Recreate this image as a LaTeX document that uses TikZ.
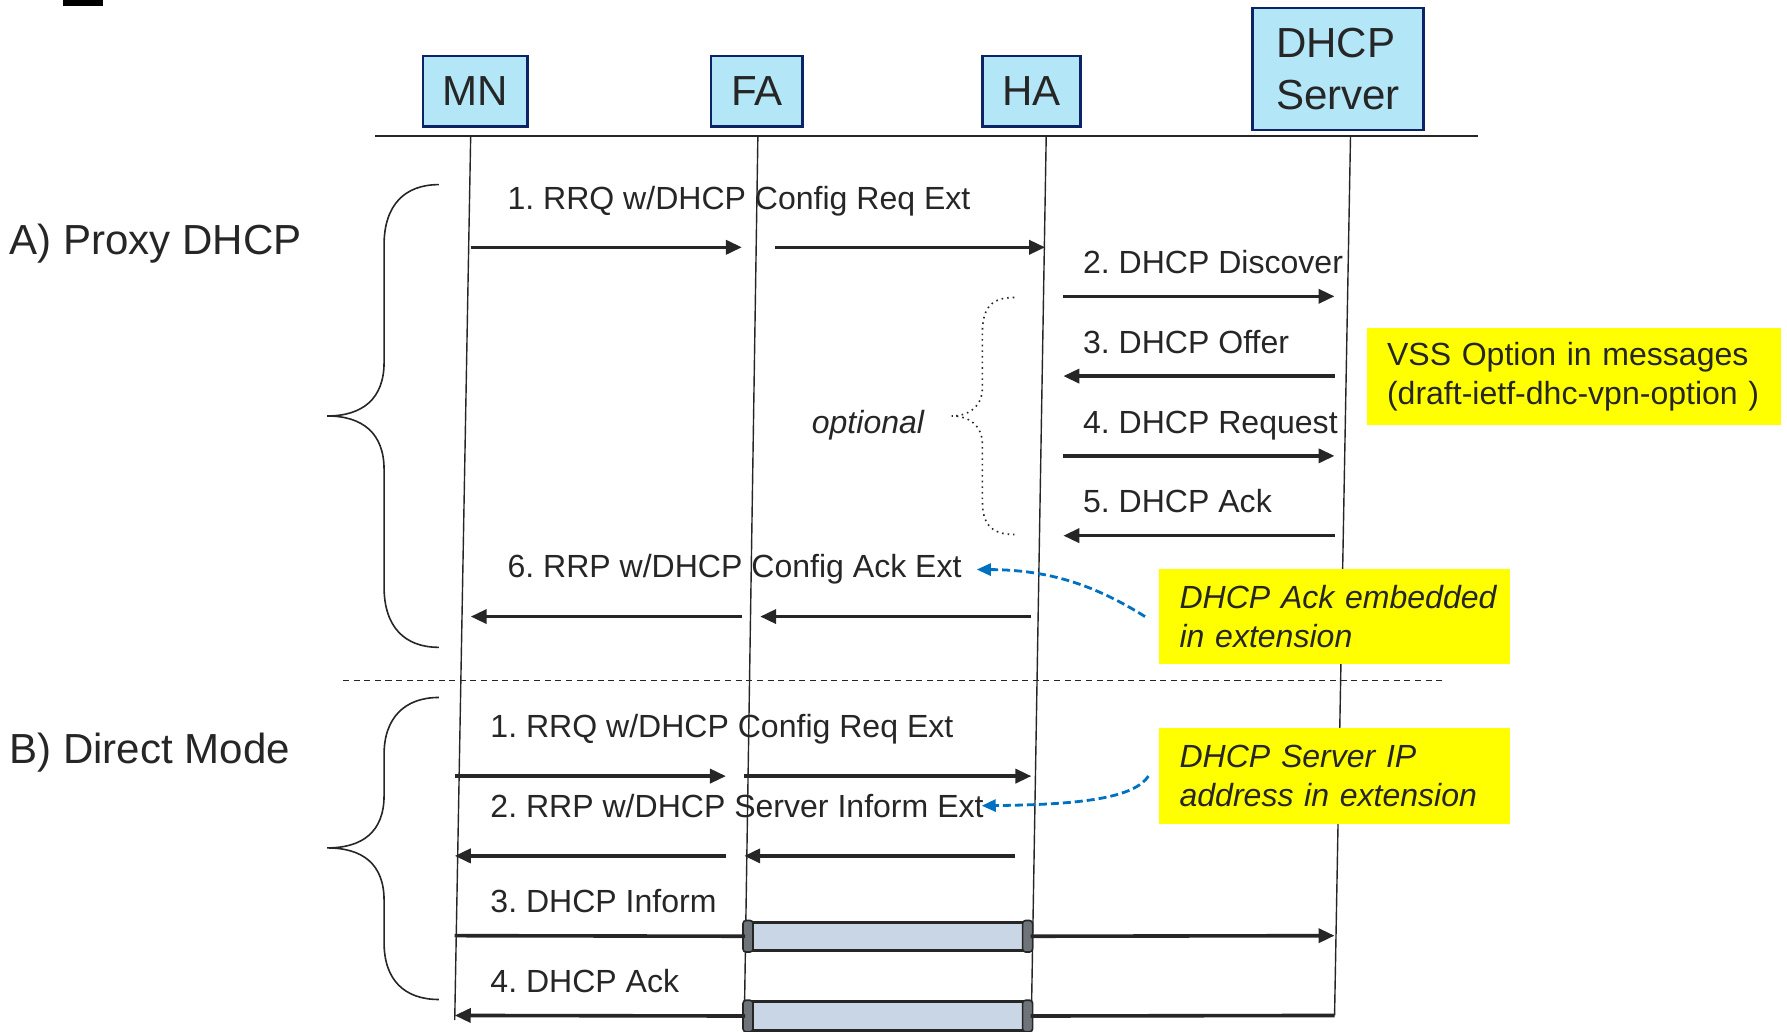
\documentclass[tikz,border=0pt]{standalone}
\usepackage{fontspec}
\setmainfont{Liberation Sans}
\usetikzlibrary{arrows.meta}
\definecolor{boxblue}{HTML}{B3E7F8}
\definecolor{boxline}{HTML}{0C2366}
\definecolor{ink}{HTML}{262626}
\definecolor{notey}{HTML}{FFFF00}
\definecolor{tunnelfill}{HTML}{C8D6E6}
\definecolor{capgray}{HTML}{6E747A}
\definecolor{callout}{HTML}{0070C0}
\frenchspacing

\tikzset{
  entity/.style={draw=boxline, fill=boxblue, line width=1.2pt, text=ink,
    font=\fontsize{21}{26}\selectfont, inner sep=0pt, minimum height=1.24cm},
  life/.style={draw=ink, line width=0.7pt},
  msg/.style={draw=ink, line width=1.8pt, -{Triangle[length=8pt,width=7pt]}},
  plain/.style={draw=ink, line width=1.8pt},
  msgtext/.style={anchor=base west, inner sep=0pt, text=ink, font=\fontsize{16}{19}\selectfont},
  group/.style={anchor=base west, inner sep=0pt, text=ink, font=\fontsize{21}{25}\selectfont},
  note/.style={fill=notey, text=ink, align=left, inner ysep=0pt, inner xsep=0.36cm,
    font=\fontsize{16}{19.5}\selectfont},
  tunnel/.style={draw=ink, fill=tunnelfill, line width=1.5pt, inner sep=0pt,
    minimum width=4.96cm, minimum height=0.5cm},
  tcap/.style={draw=ink, fill=capgray, line width=0.8pt, rounded corners=1.5pt},
  brace/.style={draw=ink, line width=0.8pt},
  callarrow/.style={draw=callout, line width=1.4pt, dash pattern=on 4pt off 2pt,
    -{Triangle[length=7pt,width=6pt]}}
}

\begin{document}
\begin{tikzpicture}[x=0.02cm,y=-0.02cm]
    \useasboundingbox (0,0) rectangle (1568,905);

    \fill[black] (55,0) rectangle (90,5);

    % entities
    \node[entity, minimum width=1.84cm] (mn) at (417,80) {MN};
    \node[entity, minimum width=1.6cm] (fa) at (664,80) {FA};
    \node[entity, minimum width=1.72cm] (ha) at (905,80) {HA};
    \node[entity, minimum width=3cm, minimum height=2.14cm, align=left] (srv) at (1174,60.5) {DHCP\\Server};

    \coordinate (hl) at (329,119);
    \coordinate (hr) at (1297,119);
    \draw[draw=ink, line width=1.1pt] (hl) -- (hr);

    % lifelines
    \coordinate (mn top) at (413,119);  \coordinate (mn bot) at (399,895);
    \coordinate (fa top) at (665,119);  \coordinate (fa bot) at (653,902);
    \coordinate (ha top) at (918,119);  \coordinate (ha bot) at (905,891);
    \coordinate (srv top) at (1185,119); \coordinate (srv bot) at (1171,891);
    \foreach \l in {mn,fa,ha,srv}
    \draw[life] (\l\space top) -- (\l\space bot);

    % A) proxy DHCP
    \node[group] (grpA) at (8,223) {A) Proxy DHCP};
    \draw[brace] (385,162) .. controls (355,162) and (337,180) .. (337,215) -- (337,318)
        .. controls (337,350) and (318,365) .. (287,365)
        .. controls (318,365) and (337,380) .. (337,412) -- (337,515)
        .. controls (337,550) and (355,568) .. (385,568);

    \node[msgtext] (a1) at (445,184) {1. RRQ w/DHCP Config Req Ext};
    \coordinate (a1mn) at (413,217); \coordinate (a1fa) at (651,217);
    \coordinate (a1fb) at (680,217); \coordinate (a1ha) at (917,217);
    \draw[msg] (a1mn) -- (a1fa);
    \draw[msg] (a1fb) -- (a1ha);

    \node[msgtext] (a2) at (950,240) {2. DHCP Discover};
    \coordinate (a2ha) at (933,260); \coordinate (a2srv) at (1171,260);
    \draw[msg] (a2ha) -- (a2srv);

    \node[msgtext] (a3) at (950,310) {3. DHCP Offer};
    \coordinate (a3ha) at (933,330); \coordinate (a3srv) at (1171,330);
    \draw[msg] (a3srv) -- (a3ha);

    \node[msgtext] (a4) at (950,380) {4. DHCP Request};
    \coordinate (a4ha) at (933,400); \coordinate (a4srv) at (1171,400);
    \draw[msg] (a4ha) -- (a4srv);

    \node[msgtext] (a5) at (950,450) {5. DHCP Ack};
    \coordinate (a5ha) at (933,470); \coordinate (a5srv) at (1171,470);
    \draw[msg] (a5srv) -- (a5ha);

    \node[msgtext] (a6) at (445,507) {6. RRP w/DHCP Config Ack Ext};
    \coordinate (a6mn) at (413,541); \coordinate (a6fa) at (651,541);
    \coordinate (a6fb) at (667,541); \coordinate (a6ha) at (905,541);
    \draw[msg] (a6fa) -- (a6mn);
    \draw[msg] (a6ha) -- (a6fb);

    % optional part
    \node[msgtext, font=\fontsize{16}{19}\selectfont\itshape] (opt) at (712,380) {optional};
    \draw[brace, dotted] (890,261) .. controls (870,261) and (862,270) .. (862,292) -- (862,340)
        .. controls (862,357) and (850,365) .. (835,365)
        .. controls (850,365) and (862,373) .. (862,390) -- (862,440)
        .. controls (862,460) and (870,469) .. (890,469);

    \node[note, minimum width=7.28cm, minimum height=1.7cm, text width=6.56cm] (vss) at (1381,330.5)
        {\mbox{VSS Option in messages}\\\mbox{(draft-ietf-dhc-vpn-option )}};
    \node[note, minimum width=6.16cm, minimum height=1.68cm, text width=5.44cm,
        font=\fontsize{16}{19.5}\selectfont\itshape] (ackbox) at (1171,541)
        {\mbox{DHCP Ack embedded}\\\mbox{in extension}};
    \draw[callarrow] ([xshift=-0.24cm]ackbox.west) .. controls (960,513) and (920,500) .. ([xshift=0.26cm]a6.east);

    % separator
    \coordinate (sepl) at (301,597);
    \coordinate (sepr) at (1267,597);
    \draw[draw=ink, line width=0.7pt, dash pattern=on 3pt off 2.3pt] (sepl) -- (sepr);

    % B) direct mode
    \node[group] (grpB) at (8,670) {B) Direct Mode};
    \draw[brace] (385,612) .. controls (355,612) and (337,630) .. (337,662) -- (337,698)
        .. controls (337,730) and (318,744) .. (287,744)
        .. controls (318,744) and (337,758) .. (337,790) -- (337,827)
        .. controls (337,860) and (355,877) .. (385,877);

    \node[msgtext] (b1) at (430,647) {1. RRQ w/DHCP Config Req Ext};
    \coordinate (b1mn) at (399,681); \coordinate (b1fa) at (637,681);
    \coordinate (b1fb) at (653,681); \coordinate (b1ha) at (905,681);
    \draw[msg] (b1mn) -- (b1fa);
    \draw[msg] (b1fb) -- (b1ha);

    \node[msgtext] (b2) at (430,717) {2. RRP w/DHCP Server Inform Ext};
    \coordinate (b2mn) at (399,751); \coordinate (b2fa) at (637,751);
    \coordinate (b2fb) at (653,751); \coordinate (b2ha) at (891,751);
    \draw[msg] (b2fa) -- (b2mn);
    \draw[msg] (b2ha) -- (b2fb);

    \node[note, minimum width=6.16cm, minimum height=1.68cm, text width=5.44cm,
        font=\fontsize{16}{19.5}\selectfont\itshape] (ipbox) at (1171,681)
        {\mbox{DHCP Server IP}\\\mbox{address in extension}};
    \draw[callarrow] ([xshift=-0.18cm]ipbox.west) .. controls (995,700) and (950,706) .. ([xshift=-0.04cm]b2.east);

    % tunnelled DHCP
    \node[msgtext] (b3) at (430,801) {3. DHCP Inform};
    \node[tunnel] (tun3) at (779,821.5) {};
    \draw[tcap] ([xshift=-1pt]tun3.north west) rectangle ([xshift=4pt]tun3.south west);
    \draw[tcap] ([xshift=1pt]tun3.north east) rectangle ([xshift=-4pt]tun3.south east);
    \coordinate (b3mn) at (399,821); \coordinate (b3srv) at (1171,821);
    \draw[plain] (b3mn) -- (tun3.west);
    \draw[msg] (tun3.east) -- (b3srv);

    \node[msgtext] (b4) at (430,871) {4. DHCP Ack};
    \node[tunnel] (tun4) at (779,891.5) {};
    \draw[tcap] ([xshift=-1pt]tun4.north west) rectangle ([xshift=4pt]tun4.south west);
    \draw[tcap] ([xshift=1pt]tun4.north east) rectangle ([xshift=-4pt]tun4.south east);
    \coordinate (b4mn) at (399,891); \coordinate (b4srv) at (1171,891);
    \draw[plain] (b4srv) -- (tun4.east);
    \draw[msg] (tun4.west) -- (b4mn);
\end{tikzpicture}
\end{document}
